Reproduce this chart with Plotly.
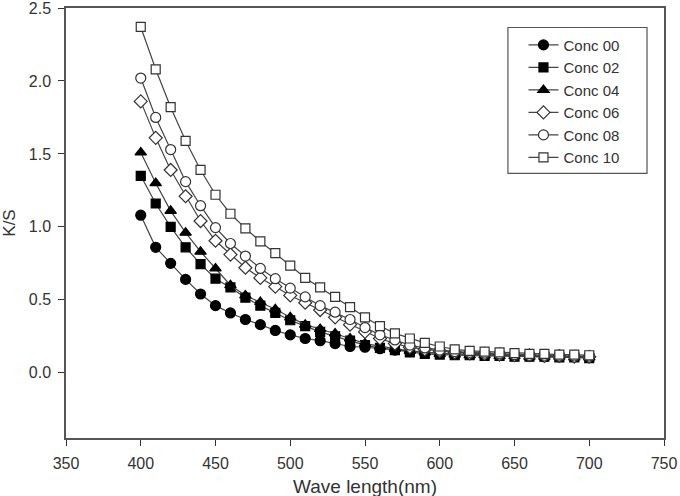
import plotly.graph_objects as go

wavelength = list(range(400, 701, 10))

conc_00 = [1.08, 0.86, 0.75, 0.64, 0.54, 0.46, 0.41, 0.365, 0.33, 0.29, 0.26, 0.235, 0.22, 0.20, 0.18, 0.175, 0.165, 0.155, 0.145,
           0.14, 0.135, 0.13, 0.125, 0.12, 0.12, 0.115, 0.115, 0.11, 0.11, 0.11, 0.105]
conc_02 = [1.35, 1.16, 1.00, 0.86, 0.745, 0.645, 0.585, 0.515, 0.46, 0.41, 0.36, 0.32, 0.28, 0.25, 0.22, 0.19, 0.17, 0.155, 0.14,
           0.13, 0.125, 0.12, 0.12, 0.115, 0.115, 0.11, 0.11, 0.11, 0.105, 0.105, 0.10]
conc_04 = [1.51, 1.30, 1.11, 0.96, 0.83, 0.715, 0.60, 0.53, 0.485, 0.435, 0.38, 0.33, 0.30, 0.27, 0.235, 0.20, 0.18, 0.165, 0.15,
           0.14, 0.13, 0.125, 0.12, 0.12, 0.115, 0.115, 0.11, 0.11, 0.11, 0.105, 0.105]
conc_06 = [1.86, 1.61, 1.39, 1.21, 1.04, 0.905, 0.81, 0.72, 0.65, 0.59, 0.53, 0.48, 0.43, 0.38, 0.33, 0.28, 0.235, 0.20, 0.175,
           0.16, 0.15, 0.14, 0.135, 0.13, 0.125, 0.12, 0.12, 0.115, 0.115, 0.11, 0.11]
conc_08 = [2.02, 1.75, 1.53, 1.31, 1.145, 0.995, 0.886, 0.80, 0.715, 0.645, 0.58, 0.52, 0.46, 0.415, 0.365, 0.31, 0.26, 0.225, 0.19,
           0.17, 0.155, 0.145, 0.14, 0.135, 0.13, 0.125, 0.12, 0.12, 0.115, 0.115, 0.115]
conc_10 = [2.37, 2.08, 1.82, 1.59, 1.39, 1.22, 1.09, 0.99, 0.90, 0.82, 0.735, 0.65, 0.585, 0.52, 0.45, 0.38, 0.32, 0.27, 0.235,
           0.205, 0.18, 0.16, 0.15, 0.145, 0.14, 0.135, 0.13, 0.13, 0.125, 0.125, 0.12]

series_names = ["Conc 00", "Conc 02", "Conc 04", "Conc 06", "Conc 08", "Conc 10"]
series_values = [conc_00, conc_02, conc_04, conc_06, conc_08, conc_10]
symbols = ["circle", "square", "triangle-up", "diamond", "circle", "square"]
fills = ["black", "black", "black", "white", "white", "white"]
sizes = [10, 9, 10, 10, 10, 9]
x_title = "Wave length(nm)"
y_title = "K/S"

fig = go.Figure()
for name, vals, sym, fc, sz in zip(series_names, series_values, symbols, fills, sizes):
    fig.add_trace(go.Scatter(
        x=wavelength, y=vals, name=name, mode="lines+markers",
        line=dict(color="#444444", width=1.2),
        marker=dict(symbol=sym, size=sz, color=fc,
                    line=dict(color="#333333" if fc == "white" else "black", width=1.2)),
    ))

FONT = "Liberation Sans, Arial, sans-serif"
fig.update_layout(
    width=680, height=496,
    margin=dict(l=66, r=16, t=8, b=58),
    paper_bgcolor="white", plot_bgcolor="white",
    font=dict(family=FONT, size=16, color="#333333"),
    showlegend=True,
    legend=dict(x=0.765, y=0.952, xanchor="left", yanchor="top",
                borderwidth=0, bgcolor="rgba(0,0,0,0)",
                font=dict(family=FONT, size=15, color="#333333"),
                tracegroupgap=0),
    shapes=[dict(type="rect", xref="paper", yref="paper",
                 x0=0.739, x1=0.9716, y0=0.6156, y1=0.9547,
                 line=dict(color="#555555", width=1.2), fillcolor="white", layer="below")],
    annotations=[dict(text=x_title, xref="paper", yref="paper", x=0.5, y=-0.113,
                      xanchor="center", yanchor="middle", showarrow=False,
                      font=dict(family=FONT, size=19, color="#333333"))],
    xaxis=dict(range=[350, 750], dtick=50, tick0=350, ticks="outside", ticklen=6,
               tickcolor="#333333", showline=True, linecolor="#555555", linewidth=1.5,
               mirror=True, showgrid=False, zeroline=False, automargin=False,
               ticklabelstandoff=4, ticklabeloverflow="allow"),
    yaxis=dict(range=[-0.447, 2.5], dtick=0.5, tick0=0, tickformat=".1f", ticks="outside", ticklen=6,
               tickcolor="#333333", showline=True, linecolor="#555555", linewidth=1.5,
               mirror=True, showgrid=False, zeroline=False, automargin=False,
               ticklabelstandoff=4, ticklabeloverflow="allow",
               title=dict(text=y_title, font=dict(size=17, color="#333333"), standoff=16)),
)

fig.write_html("out.html")
